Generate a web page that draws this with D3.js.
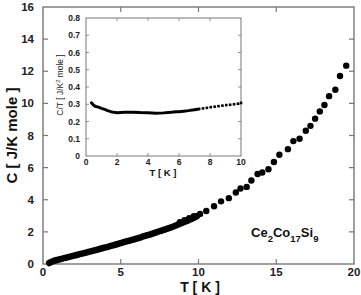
<!DOCTYPE html>
<html>
<head>
<meta charset="utf-8">
<script src="https://cdn.jsdelivr.net/npm/d3@7"></script>
<style>
  body { margin: 0; background: #fff; }
  svg { font-family: Arial, "Liberation Sans", sans-serif; }
  .tick-label { font-weight: bold; fill: #222; }
</style>
</head>
<body>
<div id="chart"></div>
<script>
// main plot data: dense low-T part and the spaced points above ~10 K
const main_denseT = [0.4, 0.6, 0.8, 1.0, 1.25, 1.5, 1.75, 2.0, 2.5, 3.0, 3.5, 4.0, 4.5, 5.0, 5.5, 6.0, 6.5, 7.0, 7.5, 8.0, 8.5, 8.8, 9.2, 9.6, 9.9];
const main_denseC = [0.06, 0.15, 0.22, 0.27, 0.34, 0.40, 0.46, 0.52, 0.64, 0.77, 0.90, 1.03, 1.16, 1.30, 1.44, 1.58, 1.73, 1.88, 2.04, 2.20, 2.38, 2.50, 2.66, 2.82, 2.98];
const main_dotT = [8.8, 9.1, 9.4, 9.7, 10.1, 10.5, 11.0, 11.45, 11.95, 12.4, 12.7, 13.1, 13.4, 13.8, 14.1, 14.5, 14.85, 15.2, 15.75, 16.1, 16.5, 16.9, 17.2, 17.5, 17.8, 18.1, 18.4, 18.8, 19.1, 19.5];
const main_dotC = [2.6, 2.72, 2.85, 2.98, 3.12, 3.3, 3.6, 3.9, 4.1, 4.45, 4.7, 4.8, 5.2, 5.6, 5.7, 5.9, 6.35, 6.8, 7.15, 7.65, 7.8, 8.3, 8.6, 9.05, 9.5, 9.9, 10.45, 10.85, 11.7, 12.35];

// inset data: C/T
const inset_lineT = [0.35, 0.45, 0.55, 0.65, 0.8, 1.0, 1.2, 1.4, 1.6, 1.8, 2.0, 2.5, 3.0, 3.5, 4.0, 4.5, 5.0, 5.5, 5.8, 6.0, 6.3, 6.6, 7.0, 7.3];
const inset_lineCT = [0.308, 0.298, 0.29, 0.287, 0.283, 0.276, 0.27, 0.263, 0.257, 0.253, 0.251, 0.253, 0.254, 0.252, 0.251, 0.248, 0.25, 0.254, 0.257, 0.256, 0.26, 0.263, 0.268, 0.272];
const inset_dotT = [7.55, 7.8, 8.05, 8.3, 8.55, 8.8, 9.05, 9.3, 9.55, 9.8, 10.0];
const inset_dotCT = [0.276, 0.279, 0.283, 0.286, 0.289, 0.292, 0.295, 0.297, 0.3, 0.303, 0.308];

const main_yTicks = [0, 2, 4, 6, 8, 10, 12, 14, 16];
const main_xTicks = [0, 5, 10, 15, 20];
const inset_yTicks = [0, 0.1, 0.2, 0.3, 0.4, 0.5, 0.6, 0.7, 0.8];
const inset_xTicks = [0, 2, 4, 6, 8, 10];

const width = 361, height = 295;
const axisColor = '#777';

const svg = d3.select('#chart').append('svg')
  .attr('width', width)
  .attr('height', height);

// main scales
const x = d3.scaleLinear().domain([0, 20]).range([43, 354]);
const y = d3.scaleLinear().domain([0, 16]).range([264, 7]);

// frame
svg.append('rect')
  .attr('x', x(0)).attr('y', y(16))
  .attr('width', x(20) - x(0)).attr('height', y(0) - y(16))
  .attr('fill', 'none').attr('stroke', axisColor).attr('stroke-width', 1.4);

// inward ticks on all four sides
function inTicks(g, scaleX, scaleY, xt, yt, len) {
  const [x0, x1] = scaleX.range();
  const [y0, y1] = scaleY.range();
  xt.forEach(t => {
    g.append('line').attr('x1', scaleX(t)).attr('x2', scaleX(t)).attr('y1', y0).attr('y2', y0 - len);
    g.append('line').attr('x1', scaleX(t)).attr('x2', scaleX(t)).attr('y1', y1).attr('y2', y1 + len);
  });
  yt.forEach(t => {
    g.append('line').attr('x1', x0).attr('x2', x0 + len).attr('y1', scaleY(t)).attr('y2', scaleY(t));
    g.append('line').attr('x1', x1).attr('x2', x1 - len).attr('y1', scaleY(t)).attr('y2', scaleY(t));
  });
}
const mainTicks = svg.append('g').attr('stroke', axisColor).attr('stroke-width', 1.2);
inTicks(mainTicks, x, y, main_xTicks.slice(1, -1), main_yTicks.slice(1, -1), 5);

// tick labels
svg.selectAll('.ylab').data(main_yTicks).enter().append('text')
  .attr('class', 'tick-label')
  .attr('x', 34).attr('y', d => y(d) + 4)
  .attr('text-anchor', 'end').attr('font-size', 11.5)
  .text(d => d);
svg.selectAll('.xlab').data(main_xTicks).enter().append('text')
  .attr('class', 'tick-label')
  .attr('x', d => x(d)).attr('y', 276)
  .attr('text-anchor', 'middle').attr('font-size', 11.5)
  .text(d => d);

// axis labels
svg.append('text')
  .attr('text-anchor', 'middle').attr('font-weight', 'bold').attr('font-size', 15).attr('fill', '#111')
  .attr('transform', `translate(17, ${(y(0) + y(16)) / 2}) rotate(-90)`)
  .text('C [ J/K mole ]');
svg.append('text')
  .attr('text-anchor', 'middle').attr('font-weight', 'bold').attr('font-size', 14).attr('fill', '#111')
  .attr('x', 200).attr('y', 292)
  .text('T [ K ]');

// main data
const line = d3.line().x((d, i) => x(main_denseT[i])).y(d => y(d)).curve(d3.curveMonotoneX);
svg.append('path')
  .datum(main_denseC)
  .attr('d', line)
  .attr('fill', 'none').attr('stroke', '#000').attr('stroke-width', 6.5)
  .attr('stroke-linecap', 'round');
svg.selectAll('.mdot').data(main_dotC).enter().append('circle')
  .attr('cx', (d, i) => x(main_dotT[i])).attr('cy', d => y(d))
  .attr('r', 3.2).attr('fill', '#000');

// compound label
const comp = svg.append('text')
  .attr('x', 251).attr('y', 237).attr('font-weight', 'bold').attr('font-size', 13).attr('fill', '#111');
[['Ce', false], ['2', true], ['Co', false], ['17', true], ['Si', false], ['9', true]].forEach(([t, sub]) => {
  comp.append('tspan')
    .attr('font-size', sub ? 9.5 : 13)
    .attr('dy', sub ? 5 : -5)
    .text(t);
});
comp.select('tspan').attr('dy', 0);

// inset
const ix = d3.scaleLinear().domain([0, 10]).range([86, 241]);
const iy = d3.scaleLinear().domain([0, 0.8]).range([156, 18]);

svg.append('rect')
  .attr('x', ix(0)).attr('y', iy(0.8))
  .attr('width', ix(10) - ix(0)).attr('height', iy(0) - iy(0.8))
  .attr('fill', '#fff').attr('stroke', axisColor).attr('stroke-width', 1);
const insetTicks = svg.append('g').attr('stroke', axisColor).attr('stroke-width', 0.8);
inTicks(insetTicks, ix, iy, inset_xTicks.slice(1, -1), inset_yTicks.slice(1, -1), 3);

svg.selectAll('.iylab').data(inset_yTicks).enter().append('text')
  .attr('class', 'tick-label')
  .attr('x', 80).attr('y', d => iy(d) + 3)
  .attr('text-anchor', 'end').attr('font-size', 8.5)
  .text(d => d === 0 ? '0' : d.toFixed(1));
svg.selectAll('.ixlab').data(inset_xTicks).enter().append('text')
  .attr('class', 'tick-label')
  .attr('x', d => ix(d)).attr('y', 165)
  .attr('text-anchor', 'middle').attr('font-size', 8.5)
  .text(d => d);

svg.append('text')
  .attr('text-anchor', 'middle').attr('font-size', 8.5).attr('fill', '#222')
  .attr('transform', `translate(63, 85) rotate(-90)`)
  .call(t => {
    t.append('tspan').text('C/T [ J/K');
    t.append('tspan').attr('font-size', 5.5).attr('dy', -3).text('2');
    t.append('tspan').attr('dy', 3).text(' mole ]');
  });
svg.append('text')
  .attr('text-anchor', 'middle').attr('font-weight', 'bold').attr('font-size', 9.5).attr('fill', '#111')
  .attr('x', 163).attr('y', 176)
  .text('T [ K ]');

const iline = d3.line().x((d, i) => ix(inset_lineT[i])).y(d => iy(d));
svg.append('path')
  .datum(inset_lineCT)
  .attr('d', iline)
  .attr('fill', 'none').attr('stroke', '#000').attr('stroke-width', 3)
  .attr('stroke-linejoin', 'round').attr('stroke-linecap', 'round');
svg.selectAll('.idot').data(inset_dotCT).enter().append('rect')
  .attr('x', (d, i) => ix(inset_dotT[i]) - 1.3).attr('y', d => iy(d) - 1.3)
  .attr('width', 2.6).attr('height', 2.6).attr('fill', '#000');
</script>
</body>
</html>
